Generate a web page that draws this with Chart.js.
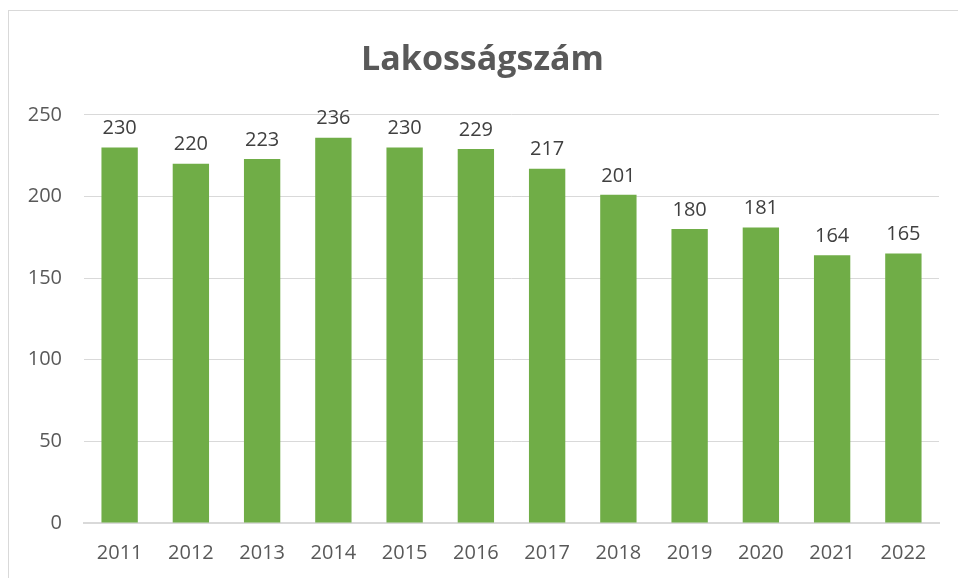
<!DOCTYPE html>
<html>
<head>
<meta charset="utf-8">
<script src="https://cdn.jsdelivr.net/npm/chart.js@4"></script>
<style>
  html, body { margin: 0; padding: 0; background: #fff; }
  #wrap { position: relative; width: 958px; height: 578px; overflow: hidden; }
  #frame { position: absolute; left: 8px; top: 10px; width: 1000px; height: 700px; border: 1px solid #d9d9d9; box-sizing: border-box; }
  canvas { position: absolute; left: 0; top: 0; }
</style>
</head>
<body>
<div id="wrap">
  <div id="frame"></div>
  <canvas id="chart" width="958" height="578"></canvas>
</div>
<script>
// adatok
const years = ["2011", "2012", "2013", "2014", "2015", "2016", "2017", "2018", "2019", "2020", "2021", "2022"];
const population = [230, 220, 223, 236, 230, 229, 217, 201, 180, 181, 164, 165];
const yTicks = [0, 50, 100, 150, 200, 250];

const textColor = "#595959";
const font = "'Open Sans', sans-serif";

// feliratok a oszlopok fölé
const barLabels = {
  id: "barLabels",
  afterDatasetsDraw(chart) {
    const ctx = chart.ctx;
    const meta = chart.getDatasetMeta(0);
    ctx.save();
    ctx.font = "20px " + font;
    ctx.fillStyle = "#404040";
    ctx.textAlign = "center";
    ctx.textBaseline = "bottom";
    meta.data.forEach((bar, i) => {
      ctx.fillText(String(population[i]), bar.x, bar.y - 9);
    });
    ctx.restore();
  }
};

new Chart(document.getElementById("chart"), {
  type: "bar",
  data: {
    labels: years,
    datasets: [{
      label: "Lakosságszám",
      data: population,
      backgroundColor: "#70ad47",
      borderWidth: 0,
      categoryPercentage: 1,
      barPercentage: 0.51
    }]
  },
  options: {
    responsive: false,
    animation: false,
    layout: { padding: { left: 26, right: 19, top: 0, bottom: 0 } },
    plugins: {
      legend: { display: false },
      tooltip: { enabled: false },
      title: {
        display: true,
        text: "Lakosságszám",
        color: textColor,
        font: { family: font, size: 34, weight: "bold", lineHeight: 1.2 },
        padding: { top: 40, bottom: 34 }
      }
    },
    scales: {
      x: {
        grid: { display: false, drawTicks: false },
        border: { display: true, color: "#d9d9d9", width: 2 },
        ticks: { color: textColor, font: { family: font, size: 20 }, padding: 18 },
        afterFit(scale) { scale.height = 55; }
      },
      y: {
        min: 0,
        max: 250,
        afterBuildTicks(scale) { scale.ticks = yTicks.map(v => ({ value: v })); },
        grid: { color: "#d9d9d9", lineWidth: 1, drawTicks: false },
        border: { display: false },
        ticks: { color: textColor, font: { family: font, size: 20 }, padding: 22 },
        afterFit(scale) { scale.width = 58; }
      }
    }
  },
  plugins: [barLabels]
});
</script>
</body>
</html>
